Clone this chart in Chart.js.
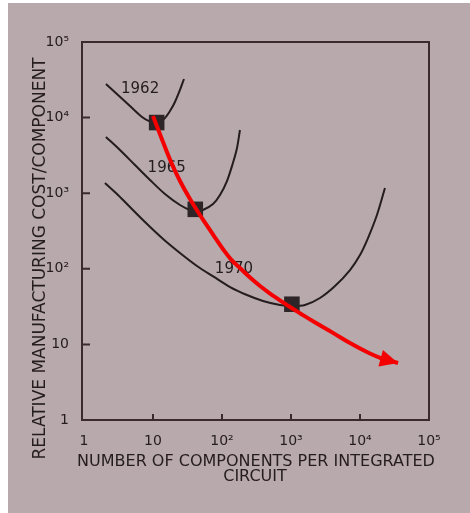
<!DOCTYPE html>
<html><head><meta charset="utf-8">
<script src="https://cdn.jsdelivr.net/npm/chart.js@4/dist/chart.umd.min.js"></script>
<style>html,body{margin:0;padding:0;background:#fff;}canvas{display:block;}</style>
</head><body>
<canvas id="c" width="470" height="513"></canvas>
<script>
// ---- data ----
const xTickValues = [1, 10, 100, 1000, 10000, 100000];
const xTickLabels = ['1', '10', '10²', '10³', '10⁴', '10⁵'];
const yTickValues = [1, 10, 100, 1000, 10000, 100000];
const yTickLabels = ['1', '10', '10²', '10³', '10⁴', '10⁵'];
const xTitle = ['NUMBER OF COMPONENTS PER INTEGRATED', 'CIRCUIT'];
const yTitle = 'RELATIVE MANUFACTURING COST/COMPONENT';

const curve1962X = [2.08, 3.11, 4.64, 6.93, 9.05, 11.4, 14.4, 17.6, 20.8, 24.6, 28.1];
const curve1962Y = [27800, 19900, 14200, 10200, 8880, 8490, 9570, 12200, 16100, 23200, 32400];

const curve1965X = [2.08, 3.32, 5.48, 9.05, 14.9, 24.6, 34.4, 42, 53, 74.1, 93.5, 118, 144, 165, 182];
const curve1965Y = [5540, 3725, 2360, 1496, 975, 698, 600, 582, 600, 719, 946, 1450, 2506, 3960, 6860];

const curve1970X = [2.01, 3.11, 4.64, 7.92, 14.0, 24.6, 43.4, 76.6, 131, 230, 393, 693, 1033, 1595, 2630, 4340, 7160, 10000, 13060, 17600, 23000];
const curve1970Y = [1365, 946, 656, 403, 248, 162, 109, 78, 57.4, 45, 37.5, 33.2, 32.2, 33.2, 41.1, 59.2, 96.4, 152, 255, 515, 1172];

const minimaX = [11.3, 41, 1030];
const minimaY = [8600, 612, 34];

const yearLabels = ['1962', '1965', '1970'];
const yearLabelX = [6.5, 15.8, 149];
const yearLabelY = [23900, 2150, 99];

const trendX = [10, 13.96, 19.5, 25.5, 34.4, 44.9, 60, 79.2, 103, 137, 182, 255, 356, 497, 693, 968, 1350, 2340, 4060, 7160, 12600, 20800, 35600];
const trendY = [10500, 4753, 2254, 1365, 838, 564, 379, 259, 183, 131.5, 102.5, 76.7, 59.2, 47.1, 38.3, 31.2, 25.8, 19.0, 14.2, 10.4, 7.93, 6.5, 5.68];

// ---- helpers ----
const pts = (xs, ys) => xs.map((x, i) => ({x: x, y: ys[i]}));
const INK = '#241c1f';
const tickFont = {family: "'DejaVu Sans'", size: 14};

const decor = {
  id: 'decor',
  beforeDraw(chart) {
    const ctx = chart.ctx;
    ctx.save();
    ctx.fillStyle = '#ffffff';
    ctx.fillRect(0, 0, chart.width, chart.height);
    ctx.fillStyle = '#b7a9ac';
    ctx.fillRect(8, 3, chart.width - 8, chart.height - 3);
    ctx.restore();
  },
  beforeDatasetsDraw(chart) {
    const ctx = chart.ctx;
    const a = chart.chartArea;
    const xs = chart.scales.x, ys = chart.scales.y;
    ctx.save();
    ctx.strokeStyle = '#3a2a2d';
    ctx.lineWidth = 2;
    const boxL = a.left - 2;
    ctx.strokeRect(boxL, a.top, a.right - boxL, a.bottom - a.top);
    ctx.beginPath();
    xTickValues.slice(1, -1).forEach(v => {
      const px = xs.getPixelForValue(v);
      ctx.moveTo(px, a.bottom); ctx.lineTo(px, a.bottom - 6);
    });
    yTickValues.slice(1, -1).forEach(v => {
      const py = ys.getPixelForValue(v);
      ctx.moveTo(boxL, py); ctx.lineTo(boxL + 8, py);
    });
    ctx.stroke();

    ctx.fillStyle = INK;
    ctx.textAlign = 'center';
    ctx.textBaseline = 'middle';
    ctx.font = "15px 'DejaVu Sans'";
    yearLabels.forEach((t, i) => {
      ctx.fillText(t, xs.getPixelForValue(yearLabelX[i]), ys.getPixelForValue(yearLabelY[i]));
    });

    ctx.font = "16px 'DejaVu Sans'";
    ctx.fillText(xTitle[0], 256, 462);
    ctx.fillText(xTitle[1], 255, 477);
    ctx.save();
    ctx.translate(40.5, 258.5);
    ctx.rotate(-Math.PI / 2);
    ctx.font = "17px 'DejaVu Sans'";
    ctx.fillText(yTitle, 0, 0);
    ctx.restore();
    ctx.restore();
  },
  afterDatasetsDraw(chart) {
    const idx = chart.data.datasets.findIndex(d => d.label === 'trend');
    const meta = chart.getDatasetMeta(idx);
    const n = meta.data.length;
    const tip = meta.data[n - 1], prev = meta.data[n - 2];
    const ang = Math.atan2(tip.y - prev.y, tip.x - prev.x);
    const L = 18, W = 8.5;
    const bx = tip.x - L * Math.cos(ang), by = tip.y - L * Math.sin(ang);
    const ctx = chart.ctx;
    ctx.save();
    ctx.fillStyle = '#f40000';
    ctx.beginPath();
    ctx.moveTo(tip.x, tip.y);
    ctx.lineTo(bx + W * Math.sin(ang), by - W * Math.cos(ang));
    ctx.lineTo(bx - W * Math.sin(ang), by + W * Math.cos(ang));
    ctx.closePath();
    ctx.fill();
    ctx.restore();
  }
};

const curveStyle = {
  type: 'line', showLine: true, pointRadius: 0, borderColor: INK, borderWidth: 2,
  tension: 0.3, fill: false, order: 2
};

new Chart(document.getElementById('c'), {
  type: 'scatter',
  data: {
    datasets: [
      Object.assign({label: '1962', data: pts(curve1962X, curve1962Y)}, curveStyle),
      Object.assign({label: '1965', data: pts(curve1965X, curve1965Y)}, curveStyle),
      Object.assign({label: '1970', data: pts(curve1970X, curve1970Y)}, curveStyle),
      {label: 'minima', data: pts(minimaX, minimaY), pointStyle: 'rect', pointRadius: 11,
       backgroundColor: '#2d2528', borderColor: '#2d2528', borderWidth: 0, showLine: false, order: 1},
      {label: 'trend', type: 'line', data: pts(trendX, trendY), showLine: true, pointRadius: 0,
       borderColor: '#f40000', borderWidth: 4, tension: 0.4, fill: false, order: 0}
    ]
  },
  options: {
    responsive: false,
    animation: false,
    events: [],
    layout: {padding: {left: 0, top: 42, right: 41, bottom: 0}},
    plugins: {legend: {display: false}, tooltip: {enabled: false}, title: {display: false}},
    scales: {
      x: {
        type: 'logarithmic', position: 'bottom', min: 1, max: 100000,
        grid: {display: false, drawTicks: false}, border: {display: false},
        afterBuildTicks: s => { s.ticks = xTickValues.map(v => ({value: v})); },
        afterFit: s => { s.height = 93; },
        ticks: {autoSkip: false, maxRotation: 0, padding: 13, color: INK, font: tickFont,
                callback: (v, i) => xTickLabels[i]}
      },
      y: {
        type: 'logarithmic', position: 'left', min: 1, max: 100000,
        grid: {display: false, drawTicks: false}, border: {display: false},
        afterBuildTicks: s => { s.ticks = yTickValues.map(v => ({value: v})); },
        afterFit: s => { s.width = 84; },
        ticks: {autoSkip: false, padding: 15, color: INK, font: tickFont,
                callback: (v, i) => yTickLabels[i]}
      }
    }
  },
  plugins: [decor]
});
</script>
</body></html>
